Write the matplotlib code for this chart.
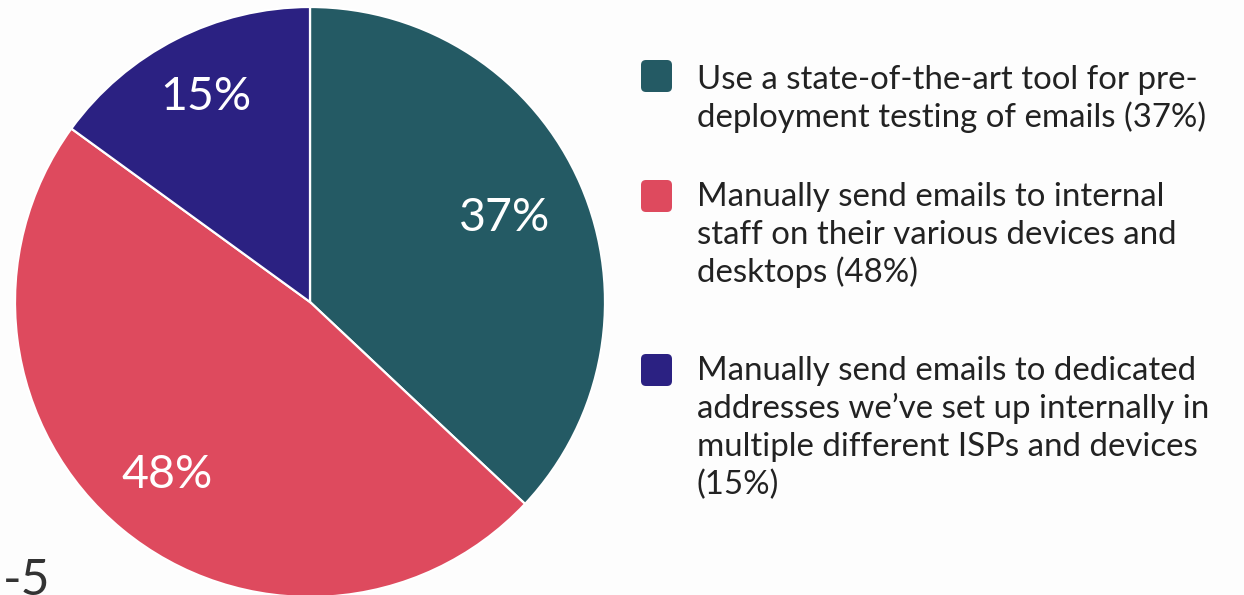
import matplotlib
matplotlib.use('Agg')
import matplotlib.pyplot as plt
from matplotlib.patches import FancyBboxPatch
import numpy as np

plt.rcParams['font.family'] = ['Lato', 'DejaVu Sans']

# survey shares, clockwise from 12 o'clock
shares = [37, 48, 15]
pct_labels = ['37%', '48%', '15%']
colors = ['#245a64', '#de4a5e', '#2b2182']
legend_lines = [
    ['Use a state-of-the-art tool for pre-',
     'deployment testing of emails (37%)'],
    ['Manually send emails to internal',
     'staff on their various devices and',
     'desktops (48%)'],
    ['Manually send emails to dedicated',
     'addresses we\u2019ve set up internally in',
     'multiple different ISPs and devices',
     '(15%)'],
]
page_number = '-5'

W, H = 1244, 595
fig = plt.figure(figsize=(W / 100, H / 100), dpi=100)
fig.patch.set_facecolor('#fdfdfd')

# pie centred at (310, 302) px with radius 295 px
cx, cy, r = 310, 302, 295
ax = fig.add_axes([(cx - r) / W, (H - cy - r) / H, 2 * r / W, 2 * r / H])
wedges, _ = ax.pie(shares, colors=colors, startangle=90, counterclock=False,
                   radius=1, wedgeprops=dict(edgecolor='white', linewidth=1.6))
ax.set_xlim(-1, 1)
ax.set_ylim(-1, 1)
ax.set_aspect('equal')
ax.axis('off')

# percentage labels inside each slice
label_dist = [0.72, 0.76, 0.78]
for w, lab, d in zip(wedges, pct_labels, label_dist):
    ang = np.deg2rad((w.theta1 + w.theta2) / 2)
    ax.text(d * np.cos(ang), d * np.sin(ang), lab, color='white',
            fontsize=33.5, ha='center', va='center')

# legend: rounded squares + one text per line
box_tops = [60, 180, 354]
first_baselines = [89, 206, 380]
line_step = 38.2
for top, base, c, lines in zip(box_tops, first_baselines, colors, legend_lines):
    sq = FancyBboxPatch((641 / W, 1 - (top + 32) / H), 31 / W, 32 / H,
                        boxstyle='round,pad=0,rounding_size=0.004',
                        transform=fig.transFigure, facecolor=c, edgecolor='none',
                        mutation_aspect=W / H)
    fig.patches.append(sq)
    for i, line in enumerate(lines):
        fig.text(697 / W, 1 - (base + i * line_step) / H, line, fontsize=23.8,
                 color='#222222', ha='left', va='baseline')

fig.text(3 / W, 1 - 558 / H, page_number, fontsize=36, color='#333333',
         ha='left', va='top')

fig.savefig('out.png', dpi=100, facecolor=fig.get_facecolor())
